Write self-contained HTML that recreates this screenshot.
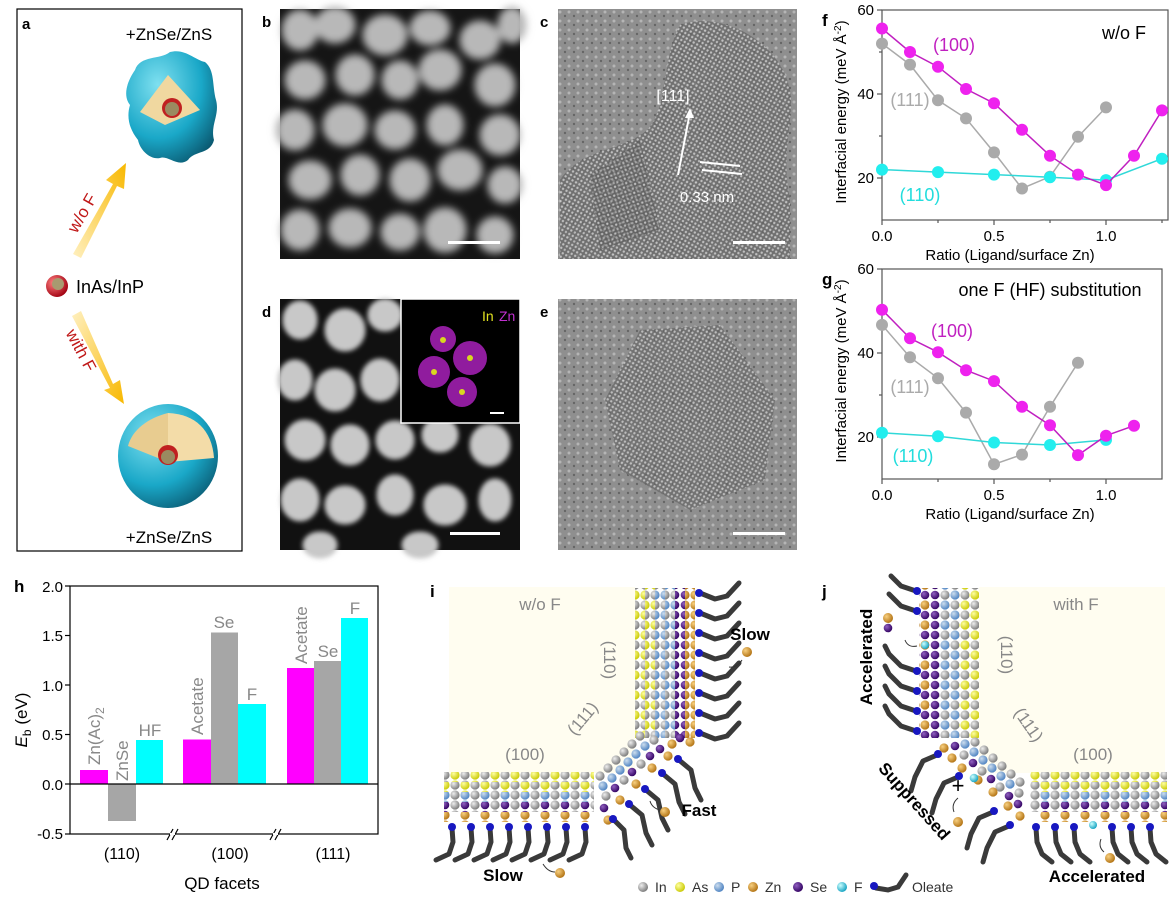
<!DOCTYPE html>
<html><head><meta charset="utf-8"><style>
html,body{margin:0;padding:0;background:#fff}
svg{display:block}
text{font-family:"Liberation Sans",Arial,sans-serif}
</style></head><body>
<svg width="1176" height="907" viewBox="0 0 1176 907" xmlns="http://www.w3.org/2000/svg">
<defs>
<radialGradient id="gIn" cx=".35" cy=".35" r=".7"><stop offset="0" stop-color="#eee"/><stop offset="1" stop-color="#777"/></radialGradient>
<radialGradient id="gAs" cx=".35" cy=".35" r=".7"><stop offset="0" stop-color="#ffffa0"/><stop offset="1" stop-color="#c8c800"/></radialGradient>
<radialGradient id="gP" cx=".35" cy=".35" r=".7"><stop offset="0" stop-color="#cde"/><stop offset="1" stop-color="#4a80c0"/></radialGradient>
<radialGradient id="gZn" cx=".35" cy=".35" r=".7"><stop offset="0" stop-color="#f8d080"/><stop offset="1" stop-color="#b07010"/></radialGradient>
<radialGradient id="gSe" cx=".35" cy=".35" r=".7"><stop offset="0" stop-color="#9060c0"/><stop offset="1" stop-color="#300060"/></radialGradient>
<radialGradient id="gF" cx=".35" cy=".35" r=".7"><stop offset="0" stop-color="#cff"/><stop offset="1" stop-color="#10a0c0"/></radialGradient>
<radialGradient id="gTeal" cx=".35" cy=".3" r=".8"><stop offset="0" stop-color="#7fe0f0"/><stop offset=".6" stop-color="#1aa8c8"/><stop offset="1" stop-color="#0a5870"/></radialGradient>
<radialGradient id="gRed" cx=".35" cy=".35" r=".7"><stop offset="0" stop-color="#ff8080"/><stop offset="1" stop-color="#a00010"/></radialGradient>
<linearGradient id="arUp" x1="0" y1="1" x2="1" y2="0"><stop offset="0" stop-color="#fff0c0"/><stop offset="1" stop-color="#f8b800"/></linearGradient>
<linearGradient id="arDn" x1="0" y1="0" x2="1" y2="1"><stop offset="0" stop-color="#fff0c0"/><stop offset="1" stop-color="#f8b800"/></linearGradient>
<filter id="bl"><feGaussianBlur stdDeviation="4"/></filter>
<filter id="bl2"><feGaussianBlur stdDeviation="2.5"/></filter>
<pattern id="lat" width="4" height="4" patternUnits="userSpaceOnUse" patternTransform="rotate(30)"><rect width="4" height="4" fill="#666"/><circle cx="2" cy="2" r="1.2" fill="#cfcfcf"/></pattern>
<pattern id="lat2" width="4" height="4" patternUnits="userSpaceOnUse" patternTransform="rotate(-20)"><rect width="4" height="4" fill="#5a5a5a"/><circle cx="2" cy="2" r="1.2" fill="#c0c0c0"/></pattern>
<pattern id="noise" width="9" height="9" patternUnits="userSpaceOnUse"><rect width="9" height="9" fill="#8f8f8f"/><circle cx="2" cy="3" r="1.5" fill="#b5b5b5"/><circle cx="7" cy="7" r="1.2" fill="#666"/></pattern>
<pattern id="vGY" width="10" height="20" patternUnits="userSpaceOnUse"><circle cx="5" cy="5" r="4.6" fill="url(#gIn)"/><circle cx="5" cy="15" r="4.6" fill="url(#gAs)"/></pattern>
<pattern id="vYG" width="10" height="20" patternUnits="userSpaceOnUse"><circle cx="5" cy="5" r="4.6" fill="url(#gAs)"/><circle cx="5" cy="15" r="4.6" fill="url(#gIn)"/></pattern>
<pattern id="vGB" width="10" height="20" patternUnits="userSpaceOnUse"><circle cx="5" cy="5" r="4.6" fill="url(#gIn)"/><circle cx="5" cy="15" r="4.6" fill="url(#gP)"/></pattern>
<pattern id="vBG" width="10" height="20" patternUnits="userSpaceOnUse"><circle cx="5" cy="5" r="4.6" fill="url(#gP)"/><circle cx="5" cy="15" r="4.6" fill="url(#gIn)"/></pattern>
<pattern id="vSe" width="10" height="10" patternUnits="userSpaceOnUse"><circle cx="5" cy="5" r="4.3" fill="url(#gSe)"/></pattern>
<pattern id="vZn" width="10" height="10" patternUnits="userSpaceOnUse"><circle cx="5" cy="5" r="4.6" fill="url(#gZn)"/></pattern>
<pattern id="vZS" width="10" height="20" patternUnits="userSpaceOnUse"><circle cx="5" cy="5" r="4.6" fill="url(#gZn)"/><circle cx="5" cy="15" r="4.3" fill="url(#gSe)"/></pattern>
<pattern id="hGY" width="20" height="10" patternUnits="userSpaceOnUse"><circle cx="5" cy="5" r="4.6" fill="url(#gIn)"/><circle cx="15" cy="5" r="4.6" fill="url(#gAs)"/></pattern>
<pattern id="hYG" width="20" height="10" patternUnits="userSpaceOnUse"><circle cx="5" cy="5" r="4.6" fill="url(#gAs)"/><circle cx="15" cy="5" r="4.6" fill="url(#gIn)"/></pattern>
<pattern id="hBG" width="20" height="10" patternUnits="userSpaceOnUse"><circle cx="5" cy="5" r="4.6" fill="url(#gP)"/><circle cx="15" cy="5" r="4.6" fill="url(#gIn)"/></pattern>
<pattern id="hSG" width="20" height="10" patternUnits="userSpaceOnUse"><circle cx="5" cy="5" r="4.3" fill="url(#gSe)"/><circle cx="15" cy="5" r="4.6" fill="url(#gIn)"/></pattern>
<pattern id="hZn" width="20" height="10" patternUnits="userSpaceOnUse"><circle cx="5" cy="5" r="4.6" fill="url(#gZn)"/></pattern>
</defs>

<!-- Panel a -->
<rect x="17" y="9" width="225" height="542" fill="#fff" stroke="#000" stroke-width="1.2"/>
<text x="22" y="29" font-size="15" font-weight="bold">a</text>
<text x="169" y="40" font-size="17" text-anchor="middle">+ZnSe/ZnS</text>
<text x="169" y="543" font-size="17" text-anchor="middle">+ZnSe/ZnS</text>
<path d="M135,70 C140,55 160,60 170,52 C185,48 195,60 205,62 C215,70 212,85 216,100 C220,115 210,125 214,140 C210,155 195,150 188,160 C178,168 168,155 160,158 C150,160 140,150 138,140 C130,130 126,118 130,105 C122,95 128,80 135,70 Z" fill="url(#gTeal)"/>
<path d="M168,75 L200,110 L165,125 L140,112 Z" fill="#f0d8a0"/>
<circle cx="172" cy="108" r="10" fill="#c02020"/><circle cx="172" cy="109" r="7" fill="#9a8a60"/>
<ellipse cx="168" cy="456" rx="50" ry="52" fill="url(#gTeal)"/>
<path d="M168,413 L168,462 L214,458 C212,430 195,414 168,413 Z" fill="#f3dca8"/>
<path d="M128,446 L168,462 L168,413 C148,418 132,430 128,446 Z" fill="#e8cc90"/>
<circle cx="168" cy="455" r="10" fill="#c02020"/><circle cx="168" cy="457" r="7" fill="#9a8a60"/>
<circle cx="57" cy="286" r="11" fill="url(#gRed)"/><circle cx="58" cy="284" r="6" fill="#a89a70"/>
<text x="76" y="293" font-size="18">InAs/InP</text>
<path d="M73,254 L113,184 L106,180 L126,163 L124,189 L117,186 L81,258 Z" fill="url(#arUp)"/>
<path d="M72,316 L81,311 L113,384 L120,380 L124,404 L104,390 L110,388 Z" fill="url(#arDn)"/>
<text x="0" y="0" font-size="17" fill="#c01818" transform="translate(87,216) rotate(-60)" text-anchor="middle">w/o F</text>
<text x="0" y="0" font-size="17" fill="#c01818" transform="translate(76,353) rotate(62)" text-anchor="middle">with F</text>

<!-- Panel b -->
<text x="262" y="27" font-size="15" font-weight="bold">b</text>
<rect x="280" y="9" width="240" height="250" fill="#151515"/>
<g fill="#b8b8b8" stroke="#b8b8b8" stroke-width="9" filter="url(#bl)">
<ellipse cx="300" cy="30" rx="14" ry="16"/><ellipse cx="335" cy="25" rx="16" ry="14"/><ellipse cx="385" cy="35" rx="18" ry="16"/><ellipse cx="430" cy="28" rx="16" ry="13"/><ellipse cx="480" cy="40" rx="16" ry="15"/><ellipse cx="512" cy="25" rx="10" ry="14"/>
<ellipse cx="305" cy="80" rx="16" ry="15"/><ellipse cx="355" cy="75" rx="15" ry="16"/><ellipse cx="400" cy="80" rx="14" ry="15"/><ellipse cx="440" cy="70" rx="17" ry="16"/><ellipse cx="495" cy="85" rx="16" ry="17"/>
<ellipse cx="295" cy="130" rx="15" ry="16"/><ellipse cx="345" cy="125" rx="18" ry="17"/><ellipse cx="395" cy="130" rx="16" ry="15"/><ellipse cx="445" cy="125" rx="14" ry="16"/><ellipse cx="500" cy="135" rx="16" ry="16"/>
<ellipse cx="310" cy="180" rx="17" ry="15"/><ellipse cx="360" cy="175" rx="15" ry="16"/><ellipse cx="410" cy="180" rx="16" ry="17"/><ellipse cx="460" cy="170" rx="18" ry="16"/><ellipse cx="505" cy="185" rx="13" ry="14"/>
<ellipse cx="300" cy="230" rx="15" ry="16"/><ellipse cx="350" cy="228" rx="17" ry="15"/><ellipse cx="400" cy="232" rx="15" ry="14"/><ellipse cx="445" cy="230" rx="17" ry="18"/><ellipse cx="495" cy="235" rx="14" ry="14"/>
</g>
<rect x="448" y="241" width="52" height="3" fill="#fff"/>

<!-- Panel c -->
<text x="540" y="27" font-size="15" font-weight="bold">c</text>
<rect x="558" y="9" width="239" height="250" fill="url(#noise)"/>
<path d="M680,25 C720,10 780,40 790,90 C795,120 780,150 790,200 L790,259 L560,259 L560,180 C580,150 620,150 640,135 C670,120 660,60 680,25 Z" fill="url(#lat)" opacity=".75"/>
<path d="M590,175 L640,140 L660,230 L600,250 Z" fill="url(#lat2)" opacity=".6"/>
<text x="673" y="101" font-size="16" fill="#fff" text-anchor="middle">[111]</text>
<line x1="678" y1="175" x2="690" y2="112" stroke="#fff" stroke-width="2"/>
<path d="M690,108 L685,118 L694,118 Z" fill="#fff"/>
<line x1="700" y1="162" x2="740" y2="166" stroke="#fff" stroke-width="2"/><line x1="702" y1="170" x2="742" y2="174" stroke="#fff" stroke-width="2"/>
<text x="707" y="202" font-size="15" fill="#fff" text-anchor="middle">0.33 nm</text>
<rect x="733" y="241" width="52" height="3" fill="#fff"/>

<!-- Panel d -->
<text x="262" y="317" font-size="15" font-weight="bold">d</text>
<rect x="280" y="299" width="240" height="251" fill="#111"/>
<g fill="#c8c8c8" stroke="#c8c8c8" stroke-width="7" filter="url(#bl2)">
<ellipse cx="300" cy="320" rx="14" ry="16"/><ellipse cx="345" cy="330" rx="17" ry="18"/><ellipse cx="385" cy="315" rx="14" ry="13"/>
<ellipse cx="295" cy="380" rx="14" ry="17"/><ellipse cx="335" cy="390" rx="17" ry="18"/><ellipse cx="380" cy="380" rx="16" ry="18"/>
<ellipse cx="305" cy="440" rx="17" ry="17"/><ellipse cx="350" cy="445" rx="16" ry="17"/><ellipse cx="395" cy="440" rx="16" ry="16"/><ellipse cx="440" cy="435" rx="15" ry="14"/><ellipse cx="490" cy="445" rx="17" ry="18"/>
<ellipse cx="300" cy="500" rx="16" ry="18"/><ellipse cx="345" cy="505" rx="17" ry="16"/><ellipse cx="395" cy="495" rx="15" ry="17"/><ellipse cx="445" cy="505" rx="18" ry="17"/><ellipse cx="495" cy="500" rx="13" ry="18"/>
<ellipse cx="320" cy="545" rx="14" ry="10"/><ellipse cx="420" cy="545" rx="15" ry="10"/>
</g>
<rect x="401" y="299" width="119" height="124" fill="#000" stroke="#fff" stroke-width="1.5"/>
<g fill="#a020b0" opacity=".9">
<circle cx="443" cy="339" r="13"/><circle cx="470" cy="358" r="17"/><circle cx="434" cy="372" r="16"/><circle cx="462" cy="392" r="15"/>
</g>
<g fill="#d8d820"><circle cx="443" cy="340" r="3"/><circle cx="470" cy="358" r="3"/><circle cx="434" cy="372" r="3"/><circle cx="462" cy="392" r="3"/></g>
<text x="482" y="321" font-size="14" fill="#e0e020">In</text><text x="499" y="321" font-size="14" fill="#c030d0">Zn</text>
<rect x="490" y="412" width="14" height="2" fill="#fff"/>
<rect x="450" y="532" width="50" height="3" fill="#fff"/>

<!-- Panel e -->
<text x="540" y="317" font-size="15" font-weight="bold">e</text>
<rect x="558" y="299" width="239" height="251" fill="url(#noise)"/>
<path d="M640,330 L720,325 L775,400 L765,480 L690,510 L620,470 L605,400 Z" fill="url(#lat)" opacity=".7"/>
<rect x="733" y="532" width="52" height="3" fill="#fff"/>

<!-- Panel f -->
<text x="822" y="26" font-size="17" font-weight="bold">f</text>
<rect x="882" y="10" width="286" height="210" fill="none" stroke="#555" stroke-width="1.2"/>
<g stroke="#555" stroke-width="1.2">
<line x1="882" y1="10" x2="877" y2="10"/><line x1="882" y1="94" x2="877" y2="94"/><line x1="882" y1="178" x2="877" y2="178"/>
<line x1="882" y1="52" x2="879" y2="52"/><line x1="882" y1="136" x2="879" y2="136"/>
<line x1="882" y1="220" x2="882" y2="225"/><line x1="994" y1="220" x2="994" y2="225"/><line x1="1106" y1="220" x2="1106" y2="225"/>
<line x1="938" y1="220" x2="938" y2="223"/><line x1="1050" y1="220" x2="1050" y2="223"/><line x1="1162" y1="220" x2="1162" y2="223"/>
</g>
<g font-size="15" text-anchor="end"><text x="874" y="15">60</text><text x="874" y="99">40</text><text x="874" y="183">20</text></g>
<g font-size="15" text-anchor="middle"><text x="882" y="241">0.0</text><text x="994" y="241">0.5</text><text x="1106" y="241">1.0</text></g>
<text x="1010" y="260" font-size="15" text-anchor="middle">Ratio (Ligand/surface Zn)</text>
<text transform="translate(846,112) rotate(-90)" font-size="15" text-anchor="middle">Interfacial energy (meV Å<tspan dy="-5" font-size="10">-2</tspan><tspan dy="5">)</tspan></text>
<text x="1124" y="39" font-size="18" text-anchor="middle">w/o F</text>
<polyline fill="none" stroke="#aaa" stroke-width="1.5" points="882,43.6 910,64.6 938,100.3 966,118.4 994,152.4 1022,188.5 1050,176.7 1078,136.8 1106,107.4"/>
<g fill="#aaa"><circle cx="882" cy="43.6" r="6"/><circle cx="910" cy="64.6" r="6"/><circle cx="938" cy="100.3" r="6"/><circle cx="966" cy="118.4" r="6"/><circle cx="994" cy="152.4" r="6"/><circle cx="1022" cy="188.5" r="6"/><circle cx="1050" cy="176.7" r="6"/><circle cx="1078" cy="136.8" r="6"/><circle cx="1106" cy="107.4" r="6"/></g>
<polyline fill="none" stroke="#30d8d8" stroke-width="1.5" points="882,169.6 938,172.1 994,174.6 1050,177.2 1106,180.1 1162,158.7"/>
<g fill="#22eeee"><circle cx="882" cy="169.6" r="6"/><circle cx="938" cy="172.1" r="6"/><circle cx="994" cy="174.6" r="6"/><circle cx="1050" cy="177.2" r="6"/><circle cx="1106" cy="180.1" r="6"/><circle cx="1162" cy="158.7" r="6"/></g>
<polyline fill="none" stroke="#c020c0" stroke-width="1.5" points="882,28.5 910,52 938,66.7 966,89 994,103.2 1022,129.7 1050,155.7 1078,174.6 1106,185.1 1134,155.7 1162,110.4"/>
<g fill="#ee22ee"><circle cx="882" cy="28.5" r="6"/><circle cx="910" cy="52" r="6"/><circle cx="938" cy="66.7" r="6"/><circle cx="966" cy="89" r="6"/><circle cx="994" cy="103.2" r="6"/><circle cx="1022" cy="129.7" r="6"/><circle cx="1050" cy="155.7" r="6"/><circle cx="1078" cy="174.6" r="6"/><circle cx="1106" cy="185.1" r="6"/><circle cx="1134" cy="155.7" r="6"/><circle cx="1162" cy="110.4" r="6"/></g>
<text x="954" y="51" font-size="18" fill="#c020c0" text-anchor="middle">(100)</text>
<text x="910" y="106" font-size="18" fill="#aaa" text-anchor="middle">(111)</text>
<text x="920" y="201" font-size="18" fill="#22dddd" text-anchor="middle">(110)</text>

<!-- Panel g -->
<text x="822" y="285" font-size="17" font-weight="bold">g</text>
<rect x="882" y="269" width="280" height="210" fill="none" stroke="#555" stroke-width="1.2"/>
<g stroke="#555" stroke-width="1.2">
<line x1="882" y1="269" x2="877" y2="269"/><line x1="882" y1="353" x2="877" y2="353"/><line x1="882" y1="437" x2="877" y2="437"/>
<line x1="882" y1="311" x2="879" y2="311"/><line x1="882" y1="395" x2="879" y2="395"/>
<line x1="882" y1="479" x2="882" y2="484"/><line x1="994" y1="479" x2="994" y2="484"/><line x1="1106" y1="479" x2="1106" y2="484"/>
<line x1="938" y1="479" x2="938" y2="482"/><line x1="1050" y1="479" x2="1050" y2="482"/>
</g>
<g font-size="15" text-anchor="end"><text x="874" y="274">60</text><text x="874" y="358">40</text><text x="874" y="442">20</text></g>
<g font-size="15" text-anchor="middle"><text x="882" y="500">0.0</text><text x="994" y="500">0.5</text><text x="1106" y="500">1.0</text></g>
<text x="1010" y="519" font-size="15" text-anchor="middle">Ratio (Ligand/surface Zn)</text>
<text transform="translate(846,371) rotate(-90)" font-size="15" text-anchor="middle">Interfacial energy (meV Å<tspan dy="-5" font-size="10">-2</tspan><tspan dy="5">)</tspan></text>
<text x="1050" y="296" font-size="18" text-anchor="middle">one F (HF) substitution</text>
<polyline fill="none" stroke="#aaa" stroke-width="1.5" points="882,324.9 910,357.2 938,378.2 966,412.6 994,464.3 1022,454.6 1050,406.8 1078,362.7"/>
<g fill="#aaa"><circle cx="882" cy="324.9" r="6"/><circle cx="910" cy="357.2" r="6"/><circle cx="938" cy="378.2" r="6"/><circle cx="966" cy="412.6" r="6"/><circle cx="994" cy="464.3" r="6"/><circle cx="1022" cy="454.6" r="6"/><circle cx="1050" cy="406.8" r="6"/><circle cx="1078" cy="362.7" r="6"/></g>
<polyline fill="none" stroke="#30d8d8" stroke-width="1.5" points="882,432.8 938,436.2 994,442.5 1050,445 1106,439.9"/>
<g fill="#22eeee"><circle cx="882" cy="432.8" r="6"/><circle cx="938" cy="436.2" r="6"/><circle cx="994" cy="442.5" r="6"/><circle cx="1050" cy="445" r="6"/><circle cx="1106" cy="439.9" r="6"/></g>
<polyline fill="none" stroke="#c020c0" stroke-width="1.5" points="882,309.7 910,338.3 938,352.2 966,370.2 994,381.1 1022,406.8 1050,425.2 1078,455.1 1106,435.7 1134,425.7"/>
<g fill="#ee22ee"><circle cx="882" cy="309.7" r="6"/><circle cx="910" cy="338.3" r="6"/><circle cx="938" cy="352.2" r="6"/><circle cx="966" cy="370.2" r="6"/><circle cx="994" cy="381.1" r="6"/><circle cx="1022" cy="406.8" r="6"/><circle cx="1050" cy="425.2" r="6"/><circle cx="1078" cy="455.1" r="6"/><circle cx="1106" cy="435.7" r="6"/><circle cx="1134" cy="425.7" r="6"/></g>
<text x="952" y="337" font-size="18" fill="#c020c0" text-anchor="middle">(100)</text>
<text x="910" y="393" font-size="18" fill="#aaa" text-anchor="middle">(111)</text>
<text x="913" y="462" font-size="18" fill="#22dddd" text-anchor="middle">(110)</text>

<!-- Panel h -->
<text x="14" y="592" font-size="17" font-weight="bold">h</text>
<rect x="70" y="586" width="308" height="248" fill="none" stroke="#000" stroke-width="1.2"/>
<g stroke="#000" stroke-width="1.2">
<line x1="70" y1="586" x2="65" y2="586"/><line x1="70" y1="635.5" x2="65" y2="635.5"/><line x1="70" y1="685" x2="65" y2="685"/><line x1="70" y1="734.5" x2="65" y2="734.5"/><line x1="70" y1="784" x2="65" y2="784"/><line x1="70" y1="834" x2="65" y2="834"/>
</g>
<g font-size="15" text-anchor="end"><text x="63" y="592">2.0</text><text x="63" y="641">1.5</text><text x="63" y="691">1.0</text><text x="63" y="740">0.5</text><text x="63" y="790">0.0</text><text x="63" y="839">-0.5</text></g>
<text transform="translate(27,720) rotate(-90)" font-size="17" text-anchor="middle"><tspan font-style="italic">E</tspan><tspan font-size="12" dy="4">b</tspan><tspan dy="-4"> (eV)</tspan></text>
<rect x="80" y="770" width="28" height="14" fill="#ff00ff"/>
<rect x="108" y="784" width="28" height="37" fill="#a6a6a6"/>
<rect x="136" y="740" width="27" height="44" fill="#00ffff"/>
<rect x="183" y="739.5" width="28" height="44.5" fill="#ff00ff"/>
<rect x="211" y="632.5" width="27" height="151.5" fill="#a6a6a6"/>
<rect x="238" y="704" width="28" height="80" fill="#00ffff"/>
<rect x="287" y="668" width="27" height="116" fill="#ff00ff"/>
<rect x="314" y="661" width="27" height="123" fill="#a6a6a6"/>
<rect x="341" y="618" width="27" height="166" fill="#00ffff"/>
<line x1="70" y1="784" x2="378" y2="784" stroke="#000" stroke-width="1.2"/>
<g stroke="#000" stroke-width="1.2"><line x1="167" y1="840" x2="173" y2="829"/><line x1="172" y1="840" x2="178" y2="829"/><line x1="270" y1="840" x2="276" y2="829"/><line x1="275" y1="840" x2="281" y2="829"/></g>
<line x1="170" y1="834" x2="175" y2="834" stroke="#fff" stroke-width="2"/><line x1="273" y1="834" x2="278" y2="834" stroke="#fff" stroke-width="2"/>
<g fill="#888" font-size="17">
<text transform="translate(100,765) rotate(-90)">Zn(Ac)<tspan font-size="12" dy="4">2</tspan></text>
<text transform="translate(128,781) rotate(-90)">ZnSe</text>
<text x="150" y="736" text-anchor="middle">HF</text>
<text transform="translate(203,735) rotate(-90)">Acetate</text>
<text x="224" y="628" text-anchor="middle">Se</text>
<text x="252" y="700" text-anchor="middle">F</text>
<text transform="translate(307,664) rotate(-90)">Acetate</text>
<text x="328" y="657" text-anchor="middle">Se</text>
<text x="355" y="614" text-anchor="middle">F</text>
</g>
<g font-size="16" text-anchor="middle"><text x="122" y="859">(110)</text><text x="230" y="859">(100)</text><text x="333" y="859">(111)</text></g>
<text x="222" y="889" font-size="17" text-anchor="middle">QD facets</text>

<!-- Panel i -->
<text x="430" y="597" font-size="17" font-weight="bold">i</text>
<rect x="449" y="587" width="186" height="186" fill="#fffdf0"/>
<text x="540" y="610" font-size="17" fill="#888" text-anchor="middle">w/o F</text>
<text transform="translate(604,660) rotate(90)" font-size="17" fill="#888" text-anchor="middle">(110)</text>
<text transform="translate(587,722) rotate(-50)" font-size="17" fill="#888" text-anchor="middle">(111)</text>
<text x="525" y="760" font-size="17" fill="#888" text-anchor="middle">(100)</text>
<rect x="635" y="588" width="10" height="150" fill="url(#vGY)"/>
<rect x="645" y="588" width="10" height="150" fill="url(#vYG)"/>
<rect x="655" y="588" width="10" height="150" fill="url(#vGB)"/>
<rect x="665" y="588" width="10" height="150" fill="url(#vBG)"/>
<rect x="675" y="588" width="10" height="150" fill="url(#vSe)"/>
<rect x="685" y="588" width="10" height="150" fill="url(#vZn)"/>
<rect x="444" y="772" width="150" height="10" fill="url(#hGY)"/>
<rect x="444" y="782" width="150" height="10" fill="url(#hYG)"/>
<rect x="444" y="792" width="150" height="10" fill="url(#hBG)"/>
<rect x="444" y="802" width="150" height="10" fill="url(#hSG)"/>
<rect x="444" y="812" width="150" height="10" fill="url(#hZn)"/>
<g>
<circle cx="600" cy="776" r="4.6" fill="url(#gIn)"/><circle cx="608" cy="768" r="4.6" fill="url(#gIn)"/><circle cx="616" cy="760" r="4.6" fill="url(#gIn)"/><circle cx="624" cy="752" r="4.6" fill="url(#gIn)"/><circle cx="632" cy="744" r="4.6" fill="url(#gIn)"/><circle cx="640" cy="736" r="4.6" fill="url(#gIn)"/>
<circle cx="603" cy="786" r="4.6" fill="url(#gP)"/><circle cx="612" cy="778" r="4.6" fill="url(#gP)"/><circle cx="620" cy="770" r="4.6" fill="url(#gP)"/><circle cx="628" cy="762" r="4.6" fill="url(#gP)"/><circle cx="636" cy="754" r="4.6" fill="url(#gP)"/><circle cx="645" cy="746" r="4.6" fill="url(#gP)"/><circle cx="654" cy="740" r="4.6" fill="url(#gIn)"/>
<circle cx="606" cy="796" r="4.6" fill="url(#gIn)"/><circle cx="615" cy="788" r="4.3" fill="url(#gSe)"/><circle cx="624" cy="780" r="4.6" fill="url(#gIn)"/><circle cx="632" cy="772" r="4.3" fill="url(#gSe)"/><circle cx="641" cy="764" r="4.6" fill="url(#gIn)"/><circle cx="650" cy="756" r="4.3" fill="url(#gSe)"/><circle cx="660" cy="749" r="4.3" fill="url(#gSe)"/><circle cx="672" cy="744" r="4.6" fill="url(#gZn)"/>
<circle cx="604" cy="808" r="4.3" fill="url(#gSe)"/><circle cx="608" cy="820" r="4.6" fill="url(#gZn)"/><circle cx="620" cy="800" r="4.6" fill="url(#gZn)"/><circle cx="636" cy="784" r="4.6" fill="url(#gZn)"/><circle cx="652" cy="768" r="4.6" fill="url(#gZn)"/><circle cx="668" cy="756" r="4.6" fill="url(#gZn)"/>
<circle cx="690" cy="742" r="4.6" fill="url(#gZn)"/><circle cx="680" cy="738" r="4.3" fill="url(#gSe)"/>
</g>
<g fill="none" stroke="#3a3a3a" stroke-width="5" stroke-linecap="round" stroke-linejoin="round">
<path d="M700,593 l15,6 l12,-3 l12,-13"/><path d="M700,613 l15,6 l12,-3 l12,-13"/><path d="M700,633 l15,6 l12,-3 l12,-13"/><path d="M700,653 l15,6 l12,-3 l12,-13"/><path d="M700,673 l15,6 l12,-3 l12,-13"/><path d="M700,693 l15,6 l12,-3 l12,-13"/><path d="M700,713 l15,6 l12,-3 l12,-13"/><path d="M700,733 l15,6 l12,-3 l12,-13"/>
<path d="M679,760 l12,10 l4,18 l6,12"/><path d="M663,774 l12,10 l4,18 l6,12"/><path d="M646,790 l12,10 l4,18 l6,12"/><path d="M630,805 l12,10 l4,18 l6,12"/><path d="M614,820 l10,10 l2,18 l5,10"/>
<path d="M452,828 l1,14 l-4,12 l-13,6"/><path d="M471,828 l1,14 l-4,12 l-13,6"/><path d="M490,828 l1,14 l-4,12 l-13,6"/><path d="M509,828 l1,14 l-4,12 l-13,6"/><path d="M528,828 l1,14 l-4,12 l-13,6"/><path d="M547,828 l1,14 l-4,12 l-13,6"/><path d="M566,828 l1,14 l-4,12 l-13,6"/><path d="M585,828 l1,14 l-4,12 l-13,6"/>
</g>
<g fill="#1818c0"><circle cx="699" cy="593" r="4"/><circle cx="699" cy="613" r="4"/><circle cx="699" cy="633" r="4"/><circle cx="699" cy="653" r="4"/><circle cx="699" cy="673" r="4"/><circle cx="699" cy="693" r="4"/><circle cx="699" cy="713" r="4"/><circle cx="699" cy="733" r="4"/>
<circle cx="678" cy="759" r="4"/><circle cx="662" cy="773" r="4"/><circle cx="645" cy="789" r="4"/><circle cx="629" cy="804" r="4"/><circle cx="613" cy="819" r="4"/>
<circle cx="452" cy="827" r="4"/><circle cx="471" cy="827" r="4"/><circle cx="490" cy="827" r="4"/><circle cx="509" cy="827" r="4"/><circle cx="528" cy="827" r="4"/><circle cx="547" cy="827" r="4"/><circle cx="566" cy="827" r="4"/><circle cx="585" cy="827" r="4"/></g>
<circle cx="747" cy="652" r="5" fill="url(#gZn)"/><circle cx="665" cy="812" r="5" fill="url(#gZn)"/><circle cx="560" cy="873" r="5" fill="url(#gZn)"/>
<g fill="none" stroke="#333" stroke-width="1"><path d="M742,660 q-5,8 -13,7"/><path d="M660,810 q-8,-2 -10,-9"/><path d="M555,872 q-7,0 -12,-8"/></g>
<text x="750" y="640" font-size="17" font-weight="bold" text-anchor="middle">Slow</text>
<text x="699" y="816" font-size="17" font-weight="bold" text-anchor="middle">Fast</text>
<text x="503" y="881" font-size="17" font-weight="bold" text-anchor="middle">Slow</text>

<!-- legend -->
<g font-size="14" fill="#333">
<circle cx="643" cy="887" r="5" fill="url(#gIn)"/><text x="655" y="892">In</text>
<circle cx="680" cy="887" r="5" fill="url(#gAs)"/><text x="692" y="892">As</text>
<circle cx="719" cy="887" r="5" fill="url(#gP)"/><text x="731" y="892">P</text>
<circle cx="753" cy="887" r="5" fill="url(#gZn)"/><text x="765" y="892">Zn</text>
<circle cx="798" cy="887" r="5" fill="url(#gSe)"/><text x="810" y="892">Se</text>
<circle cx="842" cy="887" r="5" fill="url(#gF)"/><text x="854" y="892">F</text>
<path d="M876,888 l12,2 l10,-3 l8,-12" fill="none" stroke="#3a3a3a" stroke-width="5" stroke-linecap="round"/><circle cx="874" cy="886" r="4" fill="#1818c0"/>
<text x="912" y="892">Oleate</text>
</g>

<!-- Panel j -->
<text x="822" y="597" font-size="17" font-weight="bold">j</text>
<rect x="979" y="587" width="186" height="186" fill="#fffdf0"/>
<text x="1076" y="610" font-size="17" fill="#888" text-anchor="middle">with F</text>
<text transform="translate(1001,655) rotate(90)" font-size="17" fill="#888" text-anchor="middle">(110)</text>
<text transform="translate(1024,728) rotate(55)" font-size="17" fill="#888" text-anchor="middle">(111)</text>
<text x="1093" y="760" font-size="17" fill="#888" text-anchor="middle">(100)</text>
<rect x="919" y="588" width="10" height="150" fill="url(#vZS)"/>
<rect x="929" y="588" width="10" height="150" fill="url(#vSe)"/>
<rect x="939" y="588" width="10" height="150" fill="url(#vBG)"/>
<rect x="949" y="588" width="10" height="150" fill="url(#vGB)"/>
<rect x="959" y="588" width="10" height="150" fill="url(#vYG)"/>
<rect x="969" y="588" width="10" height="150" fill="url(#vGY)"/>
<rect x="1030" y="772" width="137" height="10" fill="url(#hGY)"/>
<rect x="1030" y="782" width="137" height="10" fill="url(#hYG)"/>
<rect x="1030" y="792" width="137" height="10" fill="url(#hBG)"/>
<rect x="1030" y="802" width="137" height="10" fill="url(#hSG)"/>
<rect x="1030" y="812" width="137" height="10" fill="url(#hZn)"/>
<g>
<circle cx="975" cy="742" r="4.6" fill="url(#gIn)"/><circle cx="984" cy="750" r="4.6" fill="url(#gIn)"/><circle cx="993" cy="758" r="4.6" fill="url(#gIn)"/><circle cx="1002" cy="766" r="4.6" fill="url(#gIn)"/><circle cx="1011" cy="774" r="4.6" fill="url(#gIn)"/><circle cx="1020" cy="782" r="4.6" fill="url(#gIn)"/>
<circle cx="965" cy="744" r="4.6" fill="url(#gP)"/><circle cx="974" cy="752" r="4.6" fill="url(#gP)"/><circle cx="983" cy="760" r="4.6" fill="url(#gP)"/><circle cx="992" cy="768" r="4.6" fill="url(#gP)"/><circle cx="1001" cy="776" r="4.6" fill="url(#gP)"/><circle cx="1010" cy="784" r="4.6" fill="url(#gP)"/><circle cx="1019" cy="793" r="4.6" fill="url(#gIn)"/>
<circle cx="955" cy="746" r="4.3" fill="url(#gSe)"/><circle cx="964" cy="755" r="4.6" fill="url(#gIn)"/><circle cx="973" cy="763" r="4.3" fill="url(#gSe)"/><circle cx="982" cy="771" r="4.6" fill="url(#gIn)"/><circle cx="991" cy="779" r="4.3" fill="url(#gSe)"/><circle cx="1000" cy="787" r="4.6" fill="url(#gIn)"/><circle cx="1009" cy="796" r="4.3" fill="url(#gSe)"/><circle cx="1018" cy="804" r="4.3" fill="url(#gSe)"/>
<circle cx="944" cy="748" r="4.6" fill="url(#gZn)"/><circle cx="952" cy="758" r="4.6" fill="url(#gZn)"/><circle cx="962" cy="768" r="4.6" fill="url(#gZn)"/><circle cx="978" cy="780" r="4.6" fill="url(#gZn)"/><circle cx="993" cy="792" r="4.6" fill="url(#gZn)"/><circle cx="1008" cy="806" r="4.6" fill="url(#gZn)"/><circle cx="1020" cy="816" r="4.6" fill="url(#gZn)"/>
<circle cx="974" cy="778" r="4.3" fill="url(#gF)"/>
</g>
<g fill="none" stroke="#3a3a3a" stroke-width="5" stroke-linecap="round" stroke-linejoin="round">
<path d="M916,591 l-15,-5 l-10,-10"/><path d="M916,611 l-15,-5 l-12,-12"/><path d="M916,671 l-15,-5 l-12,-12 l-4,-8"/><path d="M916,691 l-15,-5 l-12,-12 l-4,-8"/><path d="M916,711 l-15,-5 l-12,-12 l-4,-8"/><path d="M916,731 l-15,-5 l-12,-12 l-4,-8"/>
<path d="M937,755 l-14,6 l-8,16 l-4,14"/><path d="M958,777 l-14,6 l-8,16 l-4,14"/><path d="M993,812 l-14,6 l-8,16 l-4,14"/><path d="M1009,826 l-14,6 l-8,16 l-4,14"/>
<path d="M1036,828 l1,14 l5,12 l10,8"/><path d="M1055,828 l1,14 l5,12 l10,8"/><path d="M1074,828 l1,14 l5,12 l10,8"/><path d="M1112,828 l1,14 l5,12 l10,8"/><path d="M1131,828 l1,14 l5,12 l10,8"/><path d="M1150,828 l1,14 l5,12 l10,8"/>
</g>
<g fill="#1818c0"><circle cx="917" cy="591" r="4"/><circle cx="917" cy="611" r="4"/><circle cx="917" cy="671" r="4"/><circle cx="917" cy="691" r="4"/><circle cx="917" cy="711" r="4"/><circle cx="917" cy="731" r="4"/>
<circle cx="938" cy="754" r="4"/><circle cx="959" cy="776" r="4"/><circle cx="994" cy="811" r="4"/><circle cx="1010" cy="825" r="4"/>
<circle cx="1036" cy="827" r="4"/><circle cx="1055" cy="827" r="4"/><circle cx="1074" cy="827" r="4"/><circle cx="1112" cy="827" r="4"/><circle cx="1131" cy="827" r="4"/><circle cx="1150" cy="827" r="4"/></g>
<circle cx="925" cy="645" r="4" fill="url(#gF)"/><circle cx="1093" cy="825" r="4" fill="url(#gF)"/>
<circle cx="888" cy="618" r="5" fill="url(#gZn)"/><circle cx="888" cy="628" r="4.3" fill="url(#gSe)"/>
<circle cx="958" cy="822" r="5" fill="url(#gZn)"/><circle cx="1110" cy="858" r="5" fill="url(#gZn)"/>
<g fill="none" stroke="#333" stroke-width="1"><path d="M905,640 q3,8 12,6"/><path d="M954,812 q-3,-8 4,-14"/><path d="M1104,852 q-6,-5 -3,-13"/></g>
<text x="958" y="793" font-size="22" text-anchor="middle">+</text>
<text transform="translate(872,657) rotate(-90)" font-size="17" font-weight="bold" text-anchor="middle">Accelerated</text>
<text transform="translate(910,805) rotate(48)" font-size="17" font-weight="bold" text-anchor="middle">Suppressed</text>
<text x="1097" y="882" font-size="17" font-weight="bold" text-anchor="middle">Accelerated</text>
</svg>
</body></html>
